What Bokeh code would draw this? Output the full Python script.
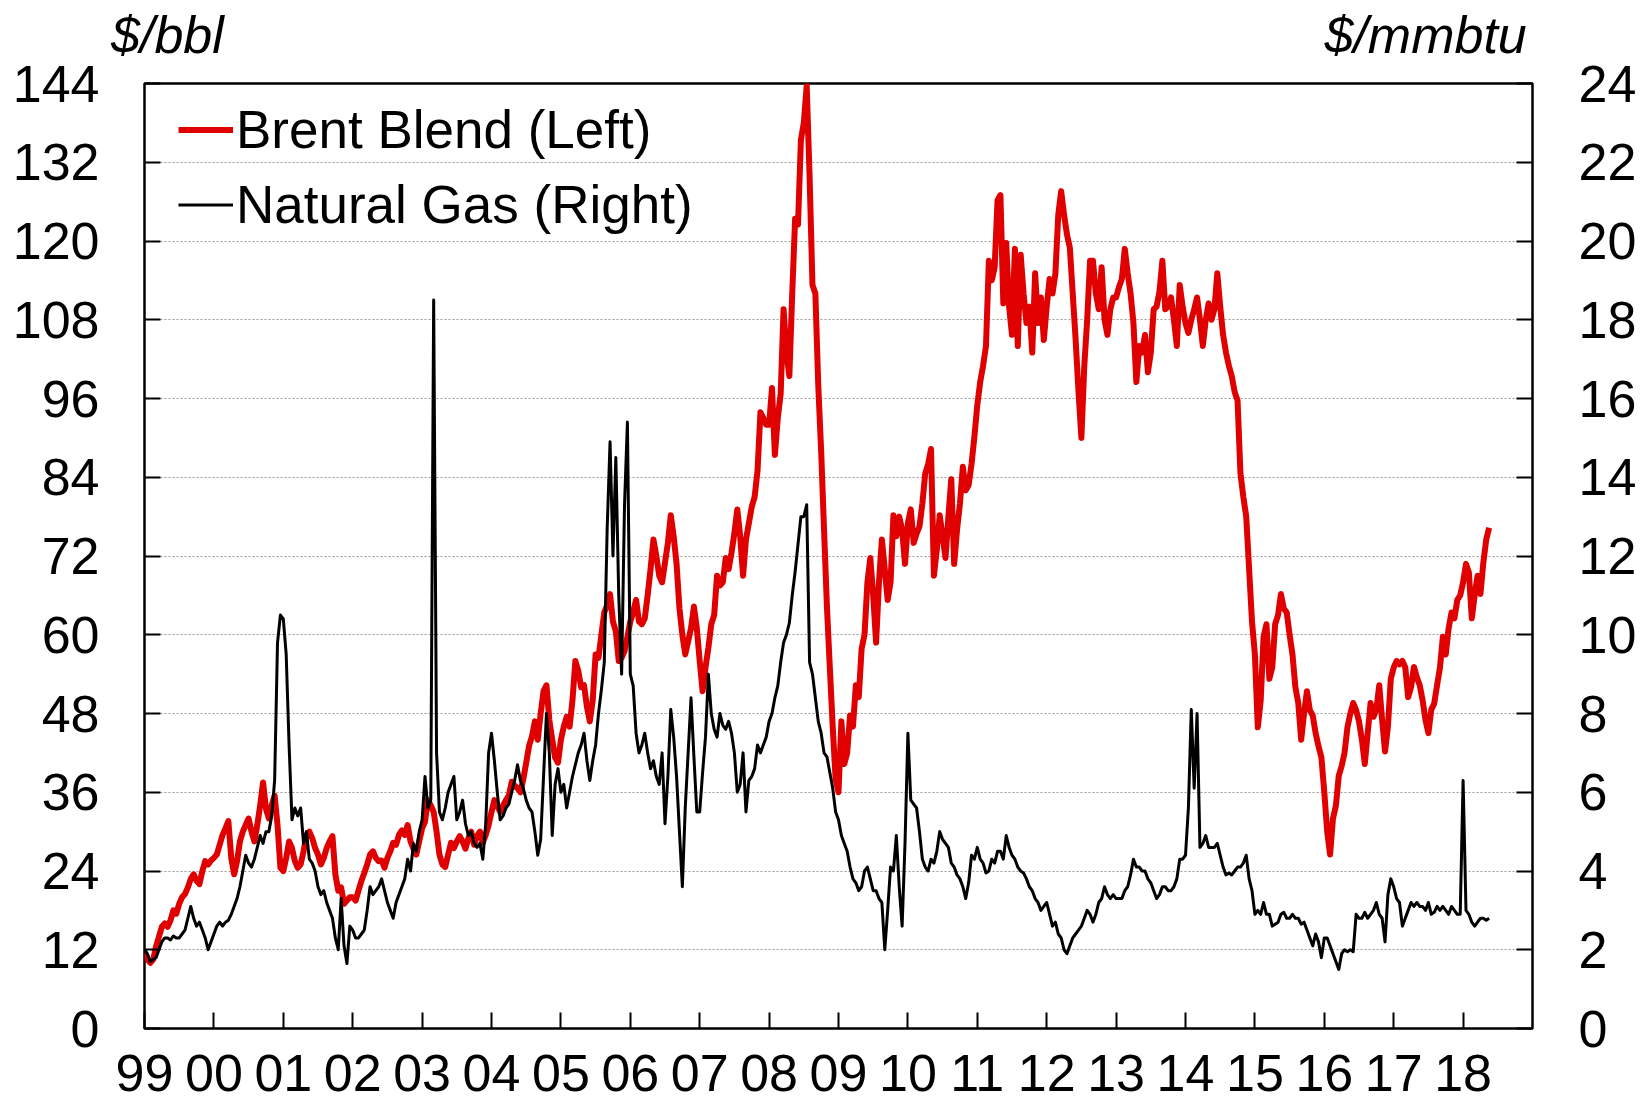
import numpy as np
from bokeh.plotting import figure
from bokeh.models import Range1d, LinearAxis, FixedTicker, Legend, LegendItem
from bokeh.embed import file_html
from bokeh.resources import INLINE

# ---------------- data (semi-monthly readings, start Jan 1999) ----------------
start_year = 1999
points_per_year = 24

tick_years = list(range(1999, 2019))
tick_labels = ["99", "00", "01", "02", "03", "04", "05", "06", "07", "08",
               "09", "10", "11", "12", "13", "14", "15", "16", "17", "18"]
left_ticks = list(range(0, 145, 12))
right_ticks = list(range(0, 25, 2))
unit_labels = ["$/bbl", "$/mmbtu"]
series_names = ["Brent Blend (Left)", "Natural Gas (Right)"]

# Brent Blend, $/bbl (left axis)
brent = [
    11.5, 10.5, 10.0, 10.5, 12.5, 14.0, 15.5, 16.0, 15.5, 16.5, 18.0, 17.5, 19.0, 20.0, 20.5, 21.5, 22.8, 23.5, 22.5, 22.0, 24.0, 25.5, 25.0, 25.6,  # 1999
    26.0, 26.5, 28.0, 29.5, 30.5, 31.6, 26.0, 23.5, 25.5, 28.5, 30.0, 31.0, 32.0, 30.0, 28.5, 31.0, 34.0, 37.5, 33.5, 32.0, 34.0, 35.5, 31.0, 24.5,  # 2000
    24.0, 26.0, 28.5, 27.5, 25.5, 24.5, 25.0, 27.0, 29.5, 30.0, 29.0, 27.5, 26.5, 25.0, 26.0, 27.5, 28.5, 29.3, 23.5, 21.0, 21.5, 19.0, 19.5, 20.0,  # 2001
    20.0, 19.5, 21.0, 22.5, 23.7, 25.0, 26.5, 27.0, 26.0, 25.5, 25.6, 24.5, 26.0, 27.0, 28.3, 28.0, 29.5, 30.2, 29.5, 31.0, 28.5, 27.4, 26.5, 28.5,  # 2002
    30.5, 31.5, 34.8, 34.0, 33.0, 30.0, 26.5, 25.0, 24.6, 26.5, 28.3, 27.5, 28.5, 29.3, 28.5, 27.4, 29.0, 30.0, 28.0, 29.3, 30.0, 28.3, 29.5, 31.0,  # 2003
    33.0, 34.8, 33.9, 33.0, 34.0, 34.8, 35.5, 37.6, 37.0, 36.6, 36.0, 38.0, 40.5, 43.1, 44.5, 46.8, 44.0, 48.0, 51.4, 52.3, 47.0, 44.0, 41.3, 40.5,  # 2004
    44.0, 46.0, 47.5, 46.0, 50.0, 56.0, 54.5, 52.0, 52.3, 49.0, 46.8, 50.0, 57.0, 56.5, 60.0, 63.4, 64.5, 66.2, 62.0, 60.5, 56.0, 56.5, 57.5, 59.7,  # 2005
    62.0, 63.5, 65.3, 62.0, 61.6, 62.5, 66.0, 70.0, 74.5, 72.0, 69.0, 68.0, 71.0, 74.0, 78.2, 75.0, 70.8, 64.0, 60.0, 57.0, 59.0, 61.0, 64.3, 61.0,  # 2006
    56.0, 51.4, 55.0, 58.0, 61.6, 63.0, 69.0, 67.5, 68.0, 71.7, 70.0, 72.5, 75.5, 79.1, 75.0, 69.0, 74.5, 77.0, 79.5, 81.0, 85.0, 93.9, 93.0, 92.0,  # 2007
    92.0, 97.6, 87.4, 93.0, 96.7, 109.6, 103.0, 99.4, 112.0, 123.4, 122.5, 135.4, 138.0, 143.7, 129.9, 113.3, 112.0, 98.0, 88.0, 76.0, 64.3, 55.0, 46.0, 38.0,  # 2008
    36.0, 46.8, 40.3, 42.0, 47.7, 46.0, 52.3, 50.5, 57.9, 60.0, 68.0, 71.7, 66.0, 58.8, 68.0, 74.5, 70.0, 65.3, 68.0, 78.2, 75.0, 78.0, 76.0, 70.8,  # 2009
    77.0, 79.1, 74.0, 75.4, 76.5, 80.0, 84.6, 86.0, 88.3, 69.0, 73.0, 78.2, 75.0, 71.7, 78.0, 83.7, 70.8, 76.0, 80.0, 85.6, 82.0, 82.8, 86.0, 90.2,  # 2010
    95.0, 98.5, 101.0, 104.0, 117.0, 114.0, 116.0, 126.2, 127.0, 110.5, 119.7, 110.0, 105.7, 118.8, 104.0, 117.9, 112.0, 107.5, 110.0, 103.0, 115.1, 107.5, 111.4, 104.9,  # 2011
    110.0, 114.2, 112.0, 115.0, 124.0, 127.6, 124.0, 121.0, 119.0, 112.0, 105.0, 97.0, 90.0, 101.0, 108.0, 117.0, 117.0, 112.0, 109.6, 116.0, 108.0, 105.7, 109.6, 111.4,  # 2012
    111.4, 113.0, 114.2, 118.8, 115.1, 112.0, 107.5, 98.5, 104.0, 103.0, 105.7, 100.0, 103.0, 109.6, 110.0, 112.3, 117.0, 109.6, 110.0, 111.4, 108.0, 104.0, 113.3, 110.0,  # 2013
    107.5, 106.0, 108.0, 109.6, 111.4, 108.0, 104.0, 108.0, 110.5, 108.0, 109.6, 115.1, 110.0, 105.7, 103.0, 101.0, 99.4, 97.0, 95.7, 84.6, 81.0, 78.0, 70.0, 62.0,  # 2014
    57.0, 45.9, 50.0, 59.7, 61.6, 53.3, 55.0, 61.6, 63.0, 66.2, 64.0, 63.4, 60.0, 57.0, 52.0, 49.6, 44.0, 48.0, 51.4, 48.5, 47.7, 45.0, 43.0, 41.3,  # 2015
    36.0, 30.0, 26.5, 32.0, 33.9, 38.5, 40.0, 42.0, 45.9, 48.0, 49.6, 48.5, 46.8, 44.0, 40.3, 45.0, 49.6, 47.5, 48.6, 52.3, 47.0, 42.2, 46.0, 53.3,  # 2016
    55.0, 56.0, 55.5, 56.0, 55.0, 50.5, 52.0, 55.1, 53.5, 52.3, 50.0, 47.0, 45.0, 48.6, 49.5, 52.3, 55.0, 59.7, 57.0, 61.0, 63.4, 62.5, 65.3, 66.0,  # 2017
    68.0, 70.8, 69.5, 62.5, 66.0, 69.0, 66.2, 71.0, 74.5, 76.3,  # 2018
]

# Natural gas, $/mmbtu (right axis)
gas = [
    2.0, 1.9, 1.7, 1.75, 1.8, 2.0, 2.2, 2.3, 2.3, 2.25, 2.35, 2.3, 2.3, 2.4, 2.5, 2.8, 3.1, 2.8, 2.6, 2.7, 2.5, 2.3, 2.0, 2.2,  # 1999
    2.4, 2.6, 2.7, 2.6, 2.7, 2.75, 2.9, 3.1, 3.3, 3.6, 4.0, 4.4, 4.2, 4.1, 4.3, 4.6, 4.9, 4.7, 5.0, 5.0, 5.4, 6.3, 9.8, 10.5,  # 2000
    10.4, 9.5, 7.2, 5.3, 5.6, 5.4, 5.6, 4.7, 5.0, 4.3, 4.2, 4.0, 3.6, 3.4, 3.5, 3.2, 3.0, 2.8, 2.3, 2.0, 3.3, 2.1, 1.65, 2.6,  # 2001
    2.5, 2.3, 2.3, 2.4, 2.5, 3.0, 3.6, 3.4, 3.5, 3.6, 3.8, 3.5, 3.2, 3.0, 2.8, 3.2, 3.4, 3.6, 3.8, 4.3, 4.0, 4.7, 4.5, 5.0,  # 2002
    5.3, 6.4, 5.6, 5.8, 18.5, 7.0, 5.5, 5.3, 5.6, 6.0, 6.2, 6.4, 5.3, 5.5, 5.8, 5.2, 4.9, 5.0, 4.7, 4.6, 4.7, 4.3, 5.2, 7.0,  # 2003
    7.5, 6.8, 6.0, 5.3, 5.4, 5.6, 5.7, 6.0, 6.3, 6.7, 6.3, 6.1, 5.8, 5.6, 5.5, 5.0, 4.4, 4.8, 6.4, 8.0, 7.0, 4.9, 6.2, 6.6,  # 2004
    6.0, 6.2, 5.6, 6.0, 6.4, 6.7, 7.0, 7.2, 7.5, 6.8, 6.3, 6.8, 7.2, 8.0, 8.6, 9.3, 12.7, 14.9, 12.0, 14.5, 11.0, 9.0, 13.3, 15.4,  # 2005
    9.0, 8.7, 7.5, 7.0, 7.2, 7.5, 7.0, 6.6, 6.8, 6.4, 6.2, 7.0, 5.2, 6.4, 8.1, 7.4, 6.4, 5.0, 3.6, 5.6, 7.0, 8.4, 6.9, 5.5,  # 2006
    5.5, 6.5, 7.4, 9.0, 8.0, 7.6, 7.4, 8.0, 7.7, 7.6, 7.8, 7.5, 7.0, 6.0, 6.2, 7.0, 5.5, 6.3, 6.4, 6.6, 7.2, 7.0, 7.2, 7.4,  # 2007
    7.8, 8.0, 8.4, 8.7, 9.3, 9.8, 10.0, 10.3, 11.0, 11.6, 12.3, 13.0, 13.0, 13.3, 9.3, 9.0, 8.4, 7.8, 7.5, 7.0, 6.9, 6.5, 6.1, 5.5,  # 2008
    5.3, 4.9, 4.7, 4.5, 4.1, 3.8, 3.7, 3.5, 3.6, 4.0, 4.1, 3.8, 3.5, 3.5, 3.3, 3.2, 2.0, 3.0, 4.1, 4.0, 4.9, 3.6, 2.6, 4.7,  # 2009
    7.5, 5.8, 5.7, 5.6, 5.0, 4.3, 4.1, 4.0, 4.3, 4.2, 4.5, 5.0, 4.8, 4.7, 4.6, 4.2, 4.1, 3.9, 3.8, 3.6, 3.3, 3.7, 4.4, 4.3,  # 2010
    4.6, 4.3, 4.2, 3.95, 4.0, 4.3, 4.2, 4.5, 4.5, 4.3, 4.9, 4.6, 4.4, 4.3, 4.1, 4.0, 3.95, 3.8, 3.6, 3.5, 3.3, 3.2, 3.0, 3.1,  # 2011
    3.2, 2.9, 2.6, 2.7, 2.4, 2.3, 2.0, 1.9, 2.1, 2.3, 2.4, 2.5, 2.6, 2.8, 3.0, 2.9, 2.7, 2.9, 3.2, 3.3, 3.6, 3.4, 3.3, 3.4,  # 2012
    3.3, 3.3, 3.3, 3.5, 3.6, 3.9, 4.3, 4.1, 4.1, 4.0, 4.0, 3.8, 3.7, 3.5, 3.3, 3.4, 3.6, 3.6, 3.5, 3.5, 3.6, 3.8, 4.3, 4.3,  # 2013
    4.4, 5.6, 8.1, 6.1, 8.0, 4.6, 4.7, 4.9, 4.6, 4.6, 4.6, 4.7, 4.4, 4.1, 3.9, 3.95, 3.9, 4.0, 4.1, 4.1, 4.2, 4.4, 3.8, 3.5,  # 2014
    2.9, 3.0, 2.9, 3.2, 2.9, 2.9, 2.6, 2.65, 2.7, 2.9, 2.95, 2.8, 2.8, 2.9, 2.8, 2.8, 2.65, 2.7, 2.5, 2.3, 2.1, 2.4, 2.2, 1.8,  # 2015
    2.3, 2.3, 2.1, 1.9, 1.7, 1.5, 1.9, 2.0, 1.95, 2.0, 1.95, 2.9, 2.8, 2.8, 2.95, 2.8, 2.9, 3.0, 3.2, 2.9, 2.8, 2.2, 3.4, 3.8,  # 2016
    3.6, 3.3, 3.2, 2.6, 2.8, 3.0, 3.2, 3.1, 3.2, 3.1, 3.1, 3.0, 3.2, 2.9, 2.95, 3.1, 3.0, 3.1, 3.0, 2.9, 3.1, 3.0, 2.9, 2.9,  # 2017
    6.3, 3.0, 2.9, 2.7, 2.6, 2.7, 2.8, 2.8, 2.75, 2.8,  # 2018
]

brent_x = start_year + np.arange(len(brent)) / points_per_year
gas_x = start_year + np.arange(len(gas)) / points_per_year

# ---------------- figure ----------------
FONT = "Liberation Sans"
FS = "52px"

p = figure(width=1644, height=1114, output_backend="svg", toolbar_location=None,
           x_range=Range1d(1999, 2019), y_range=Range1d(0, 144),
           min_border_left=144, min_border_right=112,
           min_border_top=83, min_border_bottom=86)
p.extra_y_ranges = {"gas": Range1d(0, 24)}
p.background_fill_color = "white"
p.border_fill_color = "white"
p.outline_line_color = "black"
p.outline_line_width = 2.5

p.xgrid.visible = False
p.ygrid.ticker = FixedTicker(ticks=left_ticks[1:-1])
p.ygrid.grid_line_color = "#9a9a9a"
p.ygrid.grid_line_dash = "2 2"
p.ygrid.grid_line_width = 1

xa = p.xaxis[0]
xa.ticker = FixedTicker(ticks=tick_years)
xa.major_label_overrides = {y: l for y, l in zip(tick_years, tick_labels)}
xa.major_label_standoff = 26

ya = p.yaxis[0]
ya.ticker = FixedTicker(ticks=left_ticks)
ya.major_label_standoff = 45

ra = LinearAxis(y_range_name="gas", ticker=FixedTicker(ticks=right_ticks))
ra.major_label_standoff = 46
p.add_layout(ra, "right")

for ax in (xa, ya, ra):
    ax.axis_line_color = None
    ax.major_tick_in = 16
    ax.major_tick_out = 0
    ax.major_tick_line_width = 2
    ax.major_tick_line_color = "black"
    ax.minor_tick_line_color = None
    ax.major_label_text_font = FONT
    ax.major_label_text_font_size = FS
    ax.major_label_text_color = "black"

# unit captions above the frame, one over each value axis
unit_pos = [1999.33, 2017.46]
ua = LinearAxis(ticker=FixedTicker(ticks=unit_pos),
                major_label_overrides={u: t for u, t in zip(unit_pos, unit_labels)})
ua.axis_line_color = None
ua.major_tick_line_color = None
ua.major_tick_in = 0
ua.major_tick_out = 0
ua.minor_tick_line_color = None
ua.minor_tick_in = 0
ua.minor_tick_out = 0
ua.major_label_standoff = 20
ua.major_label_text_font = FONT
ua.major_label_text_font_size = FS
ua.major_label_text_font_style = "italic"
ua.major_label_text_color = "black"
p.add_layout(ua, "above")

r_brent = p.line(brent_x, brent, line_color="#e00000", line_width=6, line_join="round")
r_gas = p.line(gas_x, gas, y_range_name="gas", line_color="black", line_width=3, line_join="round")

legend = Legend(items=[LegendItem(label=series_names[0], renderers=[r_brent]),
                       LegendItem(label=series_names[1], renderers=[r_gas])],
                location=(34, 786), padding=0, margin=0, spacing=0,
                glyph_width=55, glyph_height=75, label_standoff=3,
                label_text_font=FONT, label_text_font_size="53px", label_text_color="black",
                border_line_color=None, background_fill_alpha=0)
p.add_layout(legend)

open("out.html", "w").write(file_html(p, INLINE))
